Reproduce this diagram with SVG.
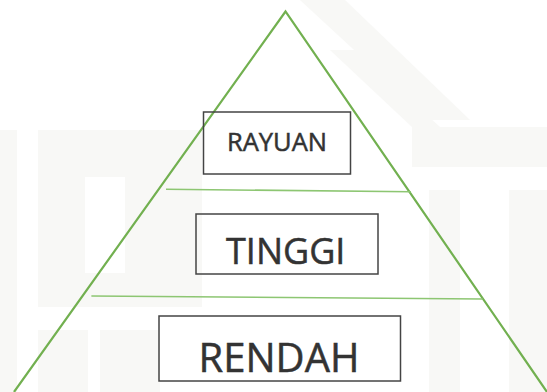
<svg xmlns="http://www.w3.org/2000/svg" width="547" height="392" viewBox="0 0 547 392">
<style>
.wm{fill:#f8f8f6}
.tri{fill:none;stroke:#72b050;stroke-width:2.2;stroke-linejoin:miter}
.sep{stroke:#8dc672;stroke-width:1.6}
.box{fill:none;stroke:#444;stroke-width:1.5}
.lbl{font-family:"Open Sans","Noto Sans",sans-serif;fill:#333;stroke:#333;stroke-width:0.5;text-anchor:middle}
</style>
<rect width="547" height="392" fill="#fff"/>
<g id="watermark">
<rect class="wm" x="0" y="130" width="17" height="262"/>
<path class="wm" d="M38 130H202V307H38Z M85 177V273H125V177Z" fill-rule="evenodd"/>
<rect class="wm" x="38" y="330" width="50" height="62"/>
<rect class="wm" x="100" y="330" width="60" height="62"/>
<polygon class="wm" points="300,0 345,0 470,120 430,120"/>
<polygon class="wm" points="330,50 355,50 440,127 412,127"/>
<rect class="wm" x="412" y="127" width="135" height="40"/>
<rect class="wm" x="429" y="190" width="31" height="202"/>
<rect class="wm" x="509" y="190" width="38" height="202"/>
</g>
<g id="connectors">
<polyline class="tri" points="14,392 285.5,11.5 547,392"/>
<line class="sep" x1="166" y1="189.3" x2="411" y2="191.7"/>
<line class="sep" x1="91.4" y1="296" x2="482.6" y2="299"/>
</g>
<g id="rayuan">
<rect class="box" x="203.5" y="112" width="147" height="62"/>
<text class="lbl" x="277" y="150.7" font-size="25.5">RAYUAN</text>
</g>
<g id="tinggi">
<rect class="box" x="196" y="214" width="182" height="60"/>
<text class="lbl" x="285.7" y="264.3" font-size="36">TINGGI</text>
</g>
<g id="rendah">
<rect class="box" x="159" y="316" width="241.5" height="65"/>
<text class="lbl" x="279" y="371.7" font-size="40">RENDAH</text>
</g>
</svg>
